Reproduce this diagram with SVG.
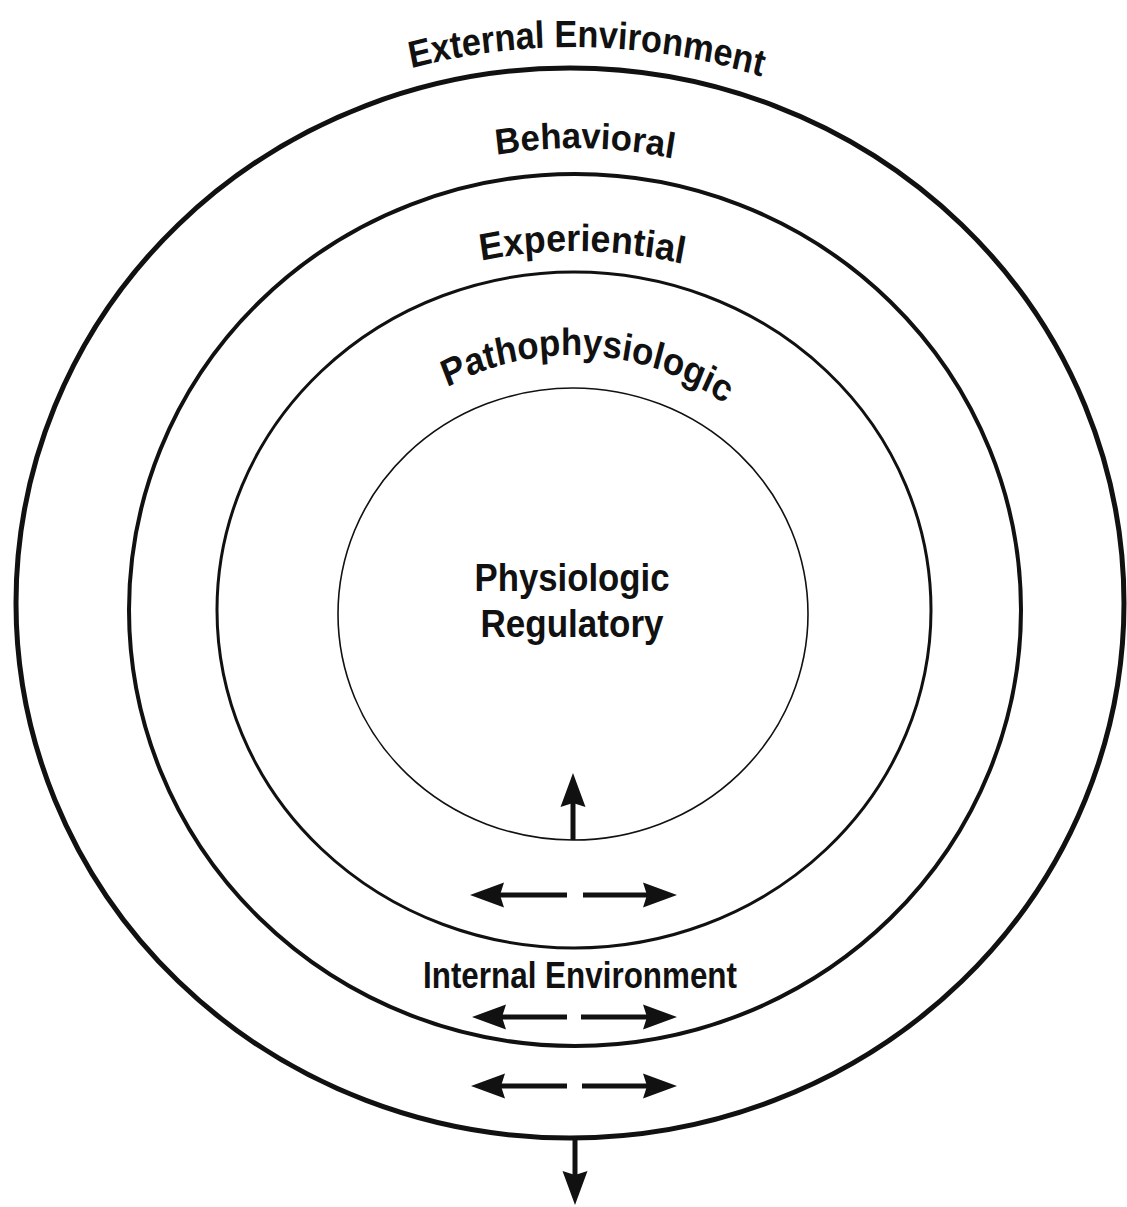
<svg xmlns="http://www.w3.org/2000/svg" width="1127" height="1207" viewBox="0 0 1127 1207">
<style>
.ring{fill:none;stroke:#111}
.lbl{font-family:"Liberation Sans Narrow","Liberation Sans",Arial,sans-serif;font-weight:bold;fill:#111}
.arr{stroke:#111;stroke-width:5;fill:none}
</style>
<defs>
<marker id="head" markerUnits="userSpaceOnUse" markerWidth="40" markerHeight="30" refX="14" refY="12.5" orient="auto" overflow="visible">
<path d="M0,0 L34,12.5 L0,25 L4,12.5 Z" fill="#111"/>
</marker>
<path id="pExt" d="M-132.5,667 A704.5,620 0 0 1 1276.5,667"/>
<path id="pBeh" d="M50,610 A525,462 0 0 1 1100,610"/>
<path id="pExp" d="M63.6,701 A511.4,450 0 0 1 1086.4,701"/>
<path id="pPat" d="M278.7,614 A294.3,259 0 0 1 867.3,614"/>
</defs>
<rect width="1127" height="1207" fill="#fff"/>
<g id="external">
<ellipse class="ring" cx="570" cy="603" rx="554" ry="535" stroke-width="5"/>
<g transform="matrix(0.88,0,0,1,68.64,0)">
<text class="lbl" font-size="38" text-anchor="middle"><textPath href="#pExt" startOffset="1058" textLength="403" lengthAdjust="spacingAndGlyphs">External Environment</textPath></text>
</g>
</g>
<g id="behavioral">
<ellipse class="ring" cx="575" cy="610" rx="446" ry="436" stroke-width="4"/>
<g transform="matrix(0.88,0,0,1,69,0)">
<text class="lbl" font-size="36" text-anchor="middle"><textPath href="#pBeh" startOffset="787" textLength="202" lengthAdjust="spacingAndGlyphs">Behavioral</textPath></text>
</g>
</g>
<g id="experiential">
<ellipse class="ring" cx="574" cy="610" rx="357" ry="338" stroke-width="3"/>
<g transform="matrix(0.88,0,0,1,69,0)">
<text class="lbl" font-size="38" text-anchor="middle"><textPath href="#pExp" startOffset="764" textLength="231" lengthAdjust="spacingAndGlyphs">Experiential</textPath></text>
</g>
</g>
<g id="pathophysiologic">
<ellipse class="ring" cx="573" cy="614" rx="235" ry="226" stroke-width="1.6" stroke="#444"/>
<g transform="matrix(0.88,0,0,1,68.76,0)">
<text class="lbl" font-size="38" text-anchor="middle"><textPath href="#pPat" startOffset="452" textLength="330" lengthAdjust="spacingAndGlyphs">Pathophysiologic</textPath></text>
</g>
</g>
<g id="physiologic-regulatory">
<text class="lbl" font-size="39" text-anchor="middle" x="572" y="591" textLength="195" lengthAdjust="spacingAndGlyphs">Physiologic</text>
<text class="lbl" font-size="39" text-anchor="middle" x="572" y="637" textLength="183" lengthAdjust="spacingAndGlyphs">Regulatory</text>
</g>
<g id="internal-environment">
<text class="lbl" font-size="37" text-anchor="middle" x="580" y="988" textLength="314" lengthAdjust="spacingAndGlyphs">Internal Environment</text>
</g>
<g id="connectors">
<line class="arr" x1="573" y1="840" x2="573" y2="793" marker-end="url(#head)"/>
<line class="arr" x1="567" y1="895" x2="490" y2="895" marker-end="url(#head)"/>
<line class="arr" x1="583" y1="895" x2="657" y2="895" marker-end="url(#head)"/>
<line class="arr" x1="567" y1="1017" x2="492" y2="1017" marker-end="url(#head)"/>
<line class="arr" x1="581" y1="1017" x2="657" y2="1017" marker-end="url(#head)"/>
<line class="arr" x1="567" y1="1086" x2="491" y2="1086" marker-end="url(#head)"/>
<line class="arr" x1="582" y1="1086" x2="657" y2="1086" marker-end="url(#head)"/>
<line class="arr" x1="575" y1="1138" x2="575" y2="1185" marker-end="url(#head)"/>
</g>
</svg>
